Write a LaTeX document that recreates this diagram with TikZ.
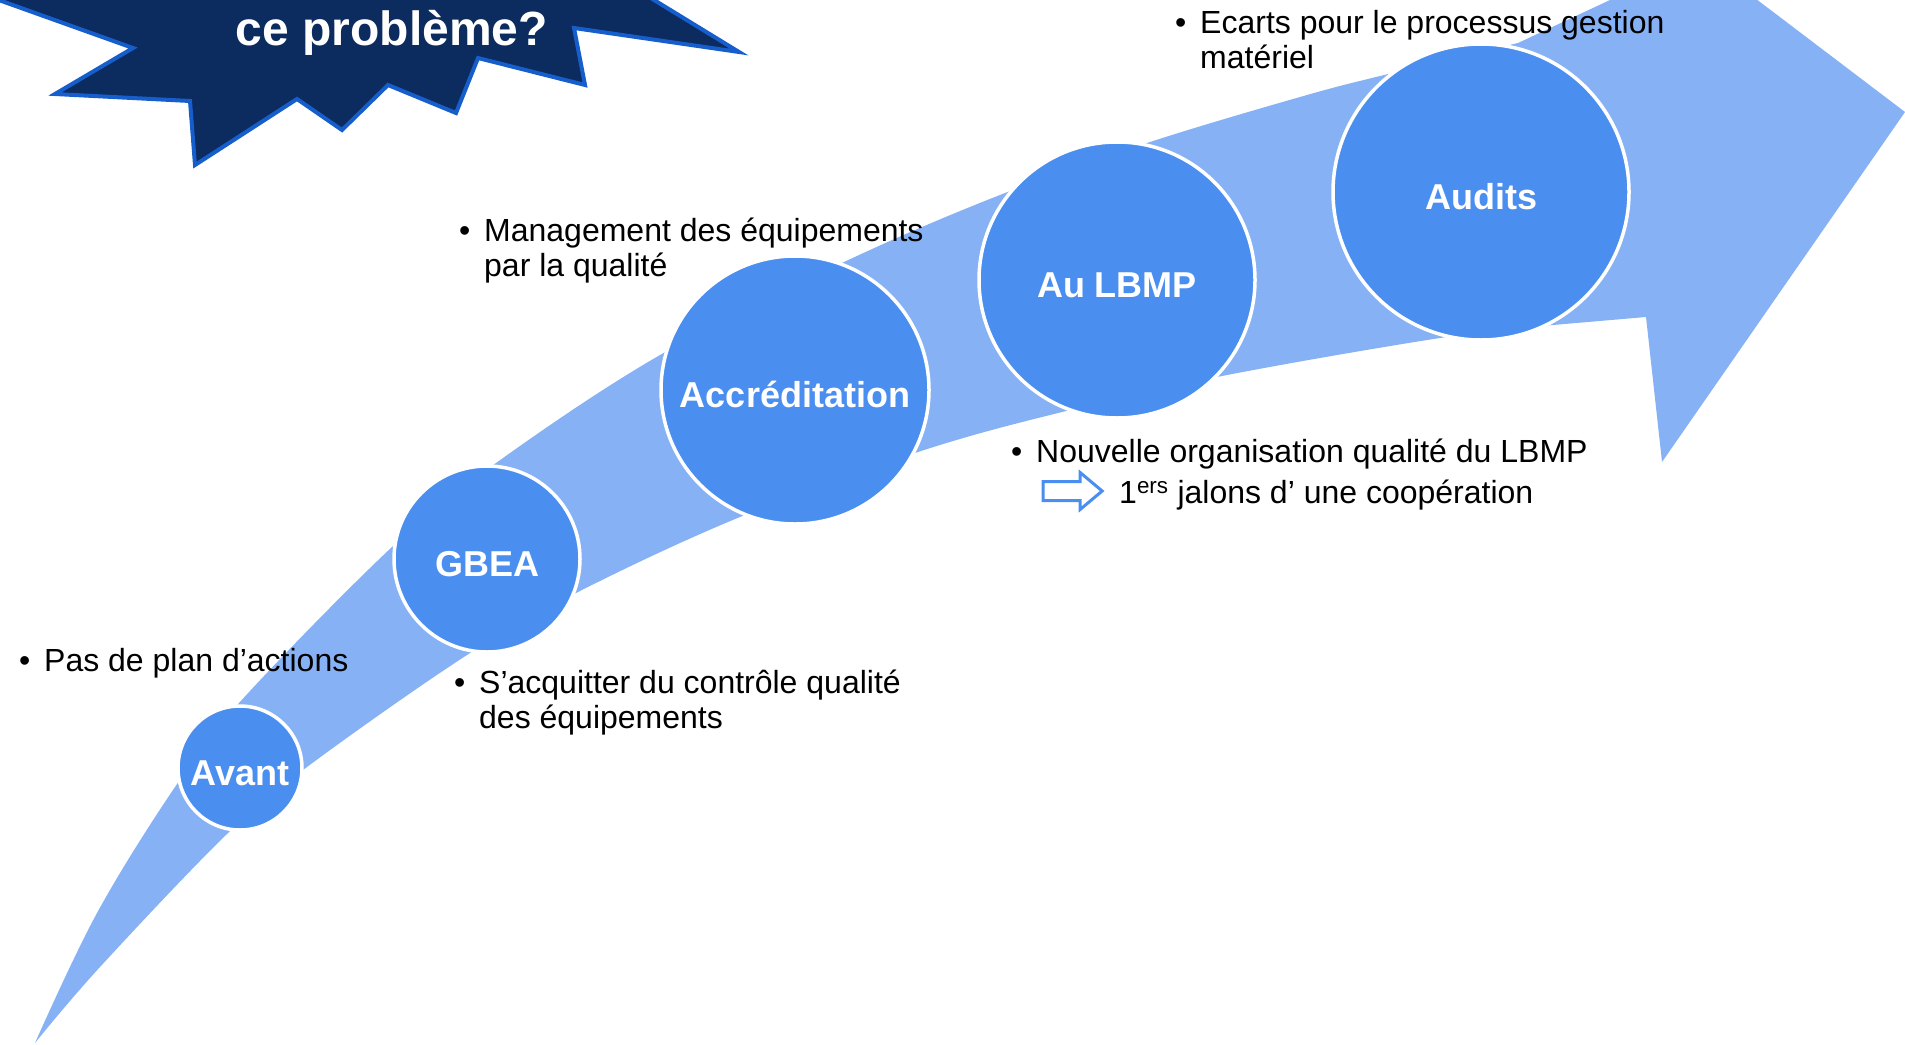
\documentclass[tikz,border=0pt]{standalone}
\usepackage{fontspec}
\setmainfont{Liberation Sans}
\usetikzlibrary{shapes.arrows}
\definecolor{fleuve}{RGB}{134,178,245}
\definecolor{bulle}{RGB}{74,142,240}
\definecolor{marine}{RGB}{12,43,94}
\definecolor{liseret}{RGB}{22,94,204}
\newcommand{\puce}[1]{\makebox[25pt][l]{\textbullet}\begin{tabular}[t]{@{}l@{}}#1\end{tabular}}
\begin{document}
\begin{tikzpicture}[x=1pt,y=-1pt,
  etape/.style={circle,fill=bulle,draw=white,line width=3.5pt,inner sep=0pt,text=white,
    text height=34pt,text depth=0pt,font=\fontsize{36}{40}\selectfont\bfseries},
  note/.style={anchor=base west,inner sep=0pt,font=\fontsize{32}{35}\selectfont}]
  \useasboundingbox (0,0) rectangle (1905,1044);
  \clip (0,0) rectangle (1905,1044);

  \fill[fleuve] plot[smooth,tension=0.6] coordinates {(35,1043) (97,913) (175,787) (239,703) (392,547) (496,463) (660,355) (844,262) (1005,193) (1150,142) (1300,97) (1380,76) (1518,43)}
    -- (1610,0) -- (1645,-25) -- (1565,-146) -- (1905,112) -- (1662,462) -- (1646,317)
    -- plot[smooth,tension=0.6] coordinates {(1553,325) (1440,338) (1222,376) (1062,412) (918,452) (740,517) (578,592) (467,655) (307,767) (227,834) (100,967) (35,1043)} -- cycle;

  \node[etape,minimum size=124pt] (avant) at (240,768) {Avant};
  \node[etape,minimum size=186pt] (gbea) at (487,559) {GBEA};
  \node[etape,minimum size=268pt] (accred) at (795,390) {Accréditation};
  \node[etape,minimum size=276pt] (lbmp) at (1117,280) {Au LBMP};
  \node[etape,minimum size=296pt] (audits) at (1481,192) {Audits};

  \node[note] (n1) at (19,671) {\puce{Pas de plan d’actions}};
  \node[note] (n2) at (454,693) {\puce{S’acquitter du contrôle qualité\\des équipements}};
  \node[note] (n3) at (459,241) {\puce{Management des équipements\\par la qualité}};
  \node[note] (n4) at (1011,462) {\puce{Nouvelle organisation qualité du LBMP}};
  \node[single arrow,draw=bulle,fill=white,line width=3pt,minimum height=59pt,inner sep=8pt,
        single arrow head extend=9pt,single arrow tip angle=80] (fleche) at (1067,491) {};
  \node[note] (n4b) at (1119,503) {1\textsuperscript{ers} jalons d’ une coopération};
  \node[note] (n5) at (1175,33) {\puce{Ecarts pour le processus gestion\\matériel}};

  \filldraw[fill=marine,draw=liseret,line width=4pt] (-60,-21) -- (133,48) -- (55,94) -- (190,101) -- (195,165)
    -- (297,99) -- (342,130) -- (388,85) -- (456,113) -- (478,58) -- (585,85) -- (574,28)
    -- (739,52) -- (605,-30) -- cycle;
  \node[anchor=base,inner sep=0pt,text=white,font=\fontsize{48}{52}\selectfont\bfseries] (question) at (392,45) {ce problème?};
\end{tikzpicture}
\end{document}
